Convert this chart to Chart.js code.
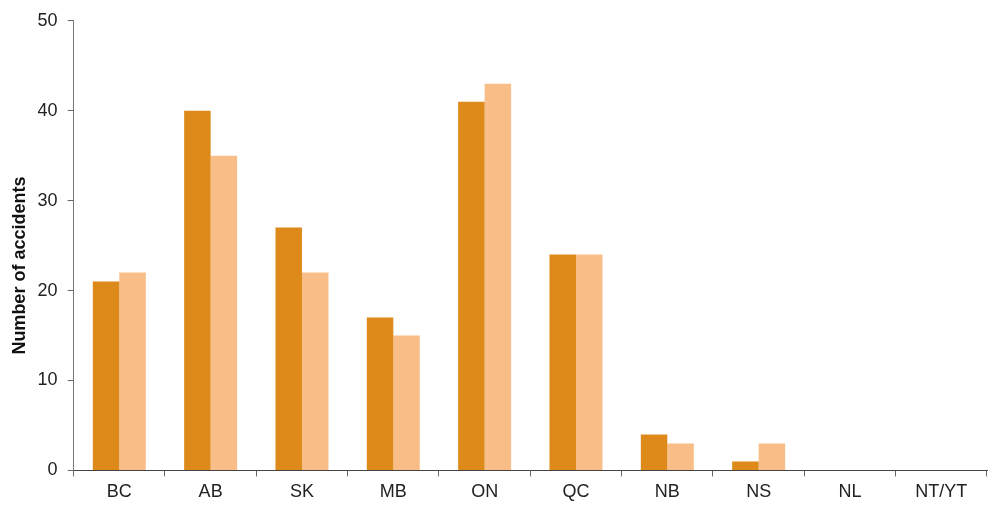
<!DOCTYPE html>
<html>
<head>
<meta charset="utf-8">
<script src="https://cdn.jsdelivr.net/npm/chart.js@4/dist/chart.umd.min.js"></script>
<style>
  html, body { margin: 0; padding: 0; background: #fff; }
  #wrap { width: 1000px; height: 526px; }
</style>
</head>
<body>
<div id="wrap"><canvas id="myChart"></canvas></div>
<script>
// data
const provinces = ['BC', 'AB', 'SK', 'MB', 'ON', 'QC', 'NB', 'NS', 'NL', 'NT/YT'];
const seriesA = [21, 40, 27, 17, 41, 24, 4, 1, 0, 0];   // dark orange
const seriesB = [22, 35, 22, 15, 43, 24, 3, 3, 0, 0];   // light orange
const yTicks = [0, 10, 20, 30, 40, 50];

const ctx = document.getElementById('myChart');
Chart.defaults.font.family = "'Liberation Sans', Arial, sans-serif";
Chart.defaults.color = '#222';

new Chart(ctx, {
    type: 'bar',
    data: {
        labels: provinces,
        datasets: [{
            label: 'A',
            data: seriesA,
            backgroundColor: '#dd8a1a',
            borderWidth: 0,
            categoryPercentage: 0.58,
            barPercentage: 1
        },
        {
            label: 'B',
            data: seriesB,
            backgroundColor: '#f9bd88',
            borderWidth: 0,
            categoryPercentage: 0.58,
            barPercentage: 1
        }]
    },
    options: {
        responsive: true,
        maintainAspectRatio: false,
        animation: false,
        layout: { padding: { top: 19, right: 13, left: 9, bottom: 18 } },
        plugins: {
            legend: { display: false },
            tooltip: { enabled: false }
        },
        scales: {
            x: {
                grid: {
                    offset: true,
                    drawOnChartArea: false,
                    tickLength: 6,
                    color: '#666'
                },
                border: { color: '#444', width: 1 },
                ticks: { font: { size: 18 }, padding: 5, color: '#222' }
            },
            y: {
                min: 0,
                max: 50,
                afterBuildTicks: (axis) => { axis.ticks = yTicks.map(v => ({ value: v })); },
                grid: {
                    drawOnChartArea: false,
                    tickLength: 6,
                    color: '#666'
                },
                border: { color: '#777', width: 1 },
                ticks: { font: { size: 18 }, padding: 10, color: '#222' },
                title: {
                    display: true,
                    // trailing spaces push the text a little lower, as in the original
                    text: 'Number of accidents        ',
                    font: { size: 18, weight: 'bold' },
                    color: '#111',
                    padding: { top: 0, bottom: -3 }
                }
            }
        }
    }
});
</script>
</body>
</html>
